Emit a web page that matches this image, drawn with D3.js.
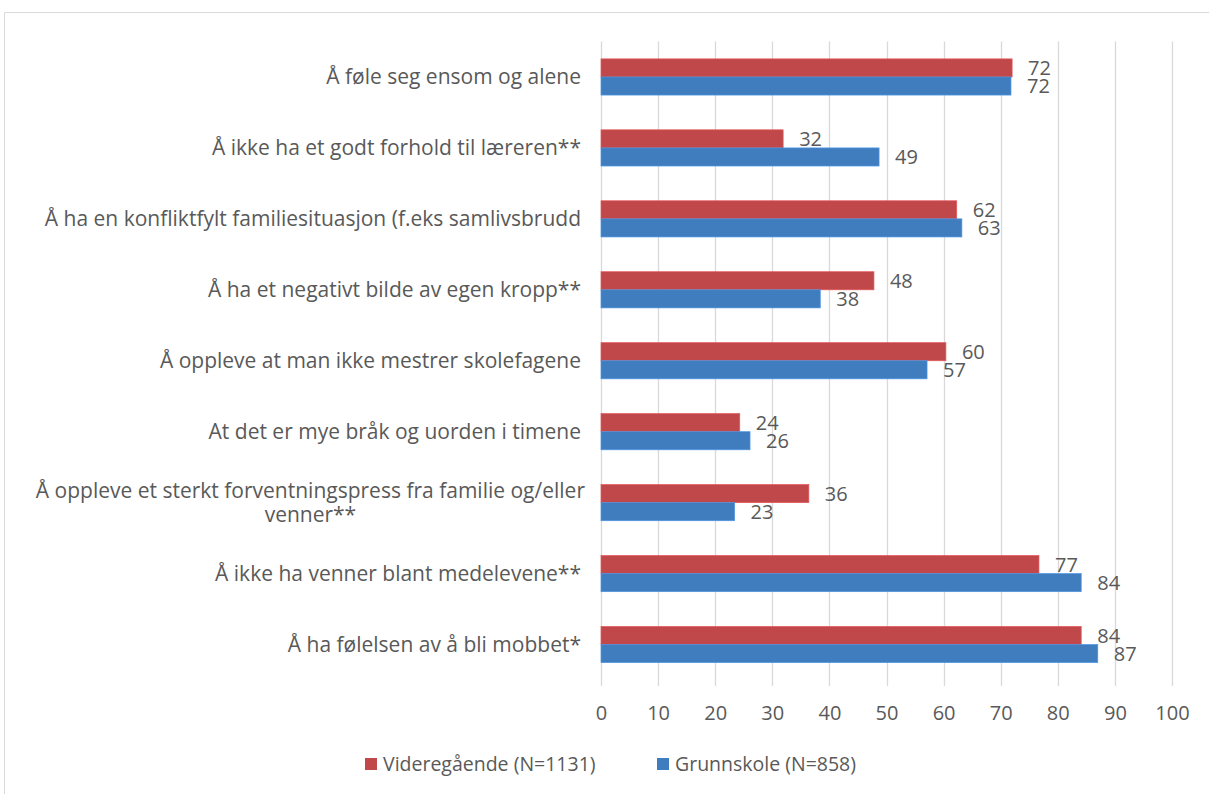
<!DOCTYPE html>
<html>
<head>
<meta charset="utf-8">
<script src="https://cdn.jsdelivr.net/npm/d3@7"></script>
<style>
  html, body { margin: 0; padding: 0; background: #fff; }
  svg { display: block; font-family: "Open Sans", sans-serif; }
</style>
</head>
<body>
<svg id="chart" width="1209" height="794"></svg>
<script>
// categories, top to bottom
const categories = [
  "Å føle seg ensom og alene",
  "Å ikke ha et godt forhold til læreren**",
  "Å ha en konfliktfylt familiesituasjon (f.eks samlivsbrudd",
  "Å ha et negativt bilde av egen kropp**",
  "Å oppleve at man ikke mestrer skolefagene",
  "At det er mye bråk og uorden i timene",
  "Å oppleve et sterkt forventningspress fra familie og/eller venner**",
  "Å ikke ha venner blant medelevene**",
  "Å ha følelsen av å bli mobbet*"
];
const videregaende = [72.0, 31.9, 62.3, 47.8, 60.4, 24.3, 36.4, 76.7, 84.1];
const grunnskole   = [71.8, 48.7, 63.2, 38.4, 57.1, 26.1, 23.4, 84.1, 87.0];
const seriesNames = ["Videregående (N=1131)", "Grunnskole (N=858)"];
const xTicks = [0, 10, 20, 30, 40, 50, 60, 70, 80, 90, 100];

const colors = ["#C0484A", "#3F7DBF"];
const textColor = "#595959";
const gridColor = "#D9D9D9";

const svg = d3.select("#chart");

// chart frame (only left and top edges visible in the window)
svg.append("path")
  .attr("d", "M4.5,800 V12.5 H1215")
  .attr("fill", "none")
  .attr("stroke", gridColor)
  .attr("stroke-width", 1);

const plot = { left: 601, right: 1172, top: 41.5, bottom: 680 };

const x = d3.scaleLinear().domain([0, 100]).range([plot.left, plot.right]);
const y = d3.scaleBand().domain(categories).range([plot.top, plot.bottom]).paddingInner(0.49).paddingOuter(0.245);
const sub = d3.scaleBand().domain([0, 1]).range([0, y.bandwidth()]);

// gridlines + tick marks
svg.append("g").selectAll("line")
  .data(xTicks)
  .join("line")
  .attr("x1", d => Math.round(x(d)) + 0.5)
  .attr("x2", d => Math.round(x(d)) + 0.5)
  .attr("y1", plot.top)
  .attr("y2", plot.bottom + 6)
  .attr("stroke", gridColor)
  .attr("stroke-width", 1.3);

// x axis labels
const xAxis = d3.axisBottom(x).tickValues(xTicks).tickSize(0).tickPadding(0);
const ax = svg.append("g")
  .attr("transform", `translate(0,${plot.bottom})`)
  .call(xAxis);
ax.select(".domain").remove();
ax.selectAll("text")
  .attr("y", 33)
  .attr("dy", "0.35em")
  .attr("fill", textColor)
  .style("font-size", "20px")
  .style("font-family", "Open Sans, sans-serif");

// bars
const series = [videregaende, grunnskole];
series.forEach((vals, si) => {
  const data = categories.map((c, i) => ({ c, v: vals[i] }));
  svg.append("g").selectAll("rect")
    .data(data)
    .join("rect")
    .attr("x", x(0))
    .attr("y", d => y(d.c) + sub(si))
    .attr("width", d => x(d.v) - x(0))
    .attr("height", sub.bandwidth())
    .attr("fill", colors[si])
    .attr("stroke", d3.color(colors[si]).brighter(0.5))
    .attr("stroke-width", 0.7);

  svg.append("g").selectAll("text")
    .data(data)
    .join("text")
    .attr("x", d => x(d.v) + 16)
    .attr("y", d => y(d.c) + sub(si) + sub.bandwidth() / 2)
    .attr("dy", "0.36em")
    .attr("fill", textColor)
    .style("font-size", "20px")
    .text(d => d3.format(".0f")(d.v));
});

// category labels (wrapped where needed, centered like the original)
const labelRight = 581;
const maxLabelWidth = 560;
const catSize = "21px";
const catG = svg.append("g");
categories.forEach(c => {
  const t = catG.append("text")
    .attr("fill", textColor)
    .style("font-size", catSize)
    .attr("text-anchor", "end")
    .attr("x", labelRight);
  const cy = y(c) + y.bandwidth() / 2;
  t.text(c);
  if (t.node().getComputedTextLength() <= maxLabelWidth) {
    t.attr("y", cy).attr("dy", "0.35em");
    return;
  }
  // wrap into lines
  t.text(null);
  const words = c.split(" ");
  const lines = [];
  let line = [];
  const probe = catG.append("text").style("font-size", catSize);
  words.forEach(w => {
    line.push(w);
    probe.text(line.join(" "));
    if (probe.node().getComputedTextLength() > maxLabelWidth && line.length > 1) {
      line.pop();
      lines.push(line.join(" "));
      line = [w];
    }
  });
  lines.push(line.join(" "));
  probe.text(lines[0]);
  const w0 = probe.node().getComputedTextLength();
  probe.remove();
  const lh = 24;
  const mid = labelRight + 4 - w0 / 2;
  t.attr("text-anchor", "middle");
  lines.forEach((l, i) => {
    t.append("tspan")
      .attr("x", mid)
      .attr("y", cy + (i - (lines.length - 1) / 2) * lh)
      .attr("dy", "0.35em")
      .text(l);
  });
});

// legend
const legend = svg.append("g").attr("transform", "translate(0,764)");
const legendX = [365, 657];
seriesNames.forEach((n, i) => {
  legend.append("rect")
    .attr("x", legendX[i]).attr("y", -6)
    .attr("width", 12).attr("height", 12)
    .attr("fill", colors[i]);
  legend.append("text")
    .attr("x", legendX[i] + 18).attr("y", 0).attr("dy", "0.35em")
    .attr("fill", textColor)
    .style("font-size", "19.5px")
    .text(n);
});
</script>
</body>
</html>
